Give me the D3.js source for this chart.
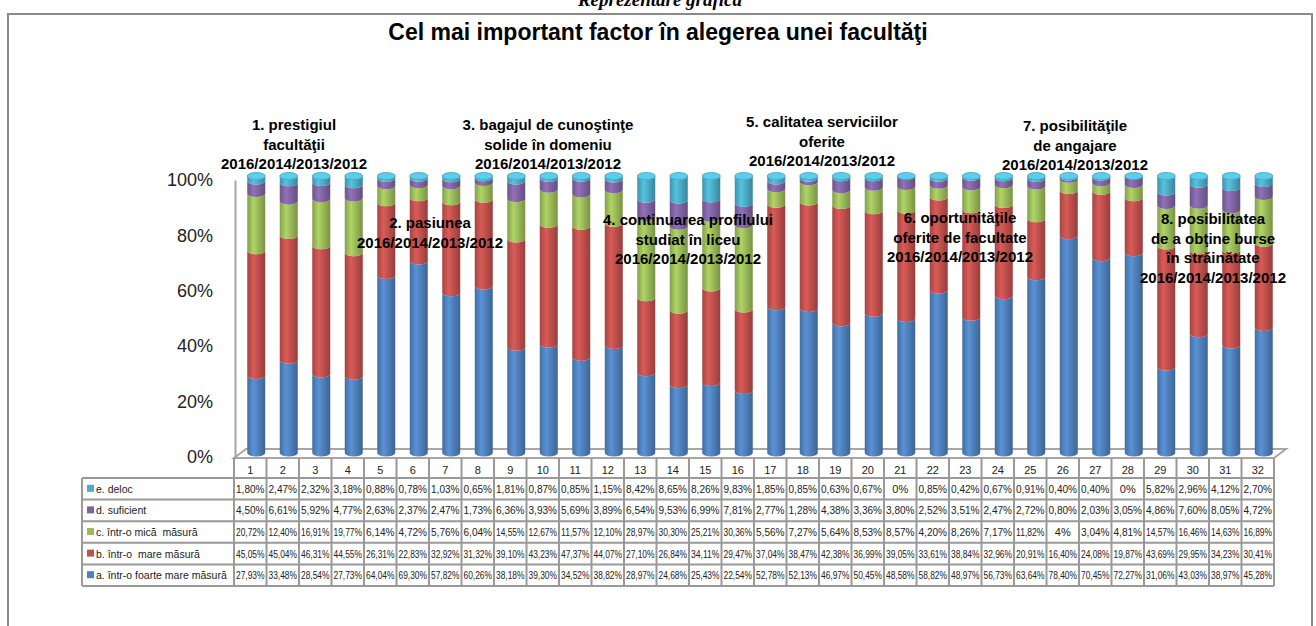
<!DOCTYPE html>
<meta charset="utf-8">
<style>
body { margin: 0; background: #fff; }
svg { display: block; font-family: "Liberation Sans", Arial, sans-serif; }
.note { font-weight: bold; font-size: 15px; fill: #000; }
.cell { font-size: 11px; fill: #222; }
.rowlab { font-size: 10.5px; fill: #222; white-space: pre; }
</style>
<body>
<script src="https://d3js.org/d3.v7.min.js"></script>
<script>

// categories (survey items x years)
var categories = ["1","2","3","4","5","6","7","8","9","10","11","12","13","14","15","16",
                  "17","18","19","20","21","22","23","24","25","26","27","28","29","30","31","32"];

// series values (%)
var foarteMare = [27.93,33.48,28.54,27.73,64.04,69.30,57.82,60.26,38.18,39.30,34.52,38.82,28.97,24.68,25.43,22.54,
                  52.78,52.13,46.97,50.45,48.58,58.82,48.97,56.73,63.64,78.40,70.45,72.27,31.06,43.03,38.97,45.28];
var mare       = [45.05,45.04,46.31,44.55,26.31,22.83,32.92,31.32,39.10,43.23,47.37,44.07,27.10,26.84,34.11,29.47,
                  37.04,38.47,42.38,36.99,39.05,33.61,38.84,32.96,20.91,16.40,24.08,19.87,43.69,29.95,34.23,30.41];
var mica       = [20.72,12.40,16.91,19.77,6.14,4.72,5.76,6.04,14.55,12.67,11.57,12.10,28.97,30.30,25.21,30.36,
                  5.56,7.27,5.64,8.53,8.57,4.20,8.26,7.17,11.82,4,3.04,4.81,14.57,16.46,14.63,16.89];
var suficient  = [4.50,6.61,5.92,4.77,2.63,2.37,2.47,1.73,6.36,3.93,5.69,3.89,6.54,9.53,6.99,7.81,
                  2.77,1.28,4.38,3.36,3.80,2.52,3.51,2.47,2.72,0.80,2.03,3.05,4.86,7.60,8.05,4.72];
var deloc      = [1.80,2.47,2.32,3.18,0.88,0.78,1.03,0.65,1.81,0.87,0.85,1.15,8.42,8.65,8.26,9.83,
                  1.85,0.85,0.63,0.67,0,0.85,0.42,0.67,0.91,0.40,0.40,0,5.82,2.96,4.12,2.70];

var seriesNames = ["a. într-o foarte mare măsură", "b. într-o  mare măsură", "c. într-o mică  măsură",
                   "d. suficient", "e. deloc"];
var yTicks = [0, 20, 40, 60, 80, 100];

var groupLabels = [
  ["1. prestigiul", "facultăţii", "2016/2014/2013/2012"],
  ["2. pasiunea", "2016/2014/2013/2012"],
  ["3.  bagajul de cunoştinţe", "solide în domeniu", "2016/2014/2013/2012"],
  ["4. continuarea profilului", "studiat în liceu", "2016/2014/2013/2012"],
  ["5. calitatea serviciilor", "oferite", "2016/2014/2013/2012"],
  ["6. oportunităţile", "oferite de facultate", "2016/2014/2013/2012"],
  ["7. posibilităţile", "de angajare", "2016/2014/2013/2012"],
  ["8. posibilitatea", "de a obţine burse", "în străinătate", "2016/2014/2013/2012"]
];

// layout
var W = 1316, H = 626;
var colors = ["#4F81BD", "#C0504D", "#9BBB59", "#8064A2", "#4BACC6"];
var labelPos = [[294,125],[430,223],[548,125],[688,220],[822,122],[960,218],[1075,126],[1213,219]];
var depthX = 12, depthY = 9;

var svg = d3.select("body").append("svg")
    .attr("width", W)
    .attr("height", H);

// frame + headings
svg.append("rect")
    .attr("x", 8).attr("y", 14)
    .attr("width", 1304).attr("height", 700)
    .attr("fill", "none").attr("stroke", "#8a8a8a").attr("stroke-width", 2);

svg.append("text")
    .attr("x", 660).attr("y", 6)
    .attr("text-anchor", "middle")
    .style("font-family", "'Liberation Serif', 'Times New Roman', serif")
    .style("font-style", "italic").style("font-weight", "bold")
    .style("font-size", "19px")
    .text("Reprezentare grafică");

svg.append("text")
    .attr("x", 658).attr("y", 40)
    .attr("text-anchor", "middle")
    .style("font-weight", "bold").style("font-size", "23px")
    .text("Cel mai important factor în alegerea unei facultăţi");

// scales
var x = d3.scaleBand().domain(categories).range([234, 1274]).padding(0);
var y = d3.scaleLinear().domain([0, 100]).range([453, 176]);

// gradients for the cylinders
var defs = svg.append("defs");
colors.forEach(function(c, i) {
  var g = defs.append("linearGradient").attr("id", "cyl" + i)
      .attr("x1", 0).attr("x2", 1).attr("y1", 0).attr("y2", 0);
  g.append("stop").attr("offset", "0%").attr("stop-color", d3.color(c).darker(0.45));
  g.append("stop").attr("offset", "35%").attr("stop-color", d3.color(c).brighter(0.35));
  g.append("stop").attr("offset", "100%").attr("stop-color", d3.color(c).darker(0.7));
});

// floor
var fy = 458;
svg.append("path")
    .attr("d", "M234," + fy + "L" + (234 + depthX) + "," + (fy - depthY) +
               "L" + (1274 + depthX) + "," + (fy - depthY) + "L1274," + fy + "Z")
    .attr("fill", "#fff").attr("stroke", "#a6a6a6").attr("stroke-width", 2);

// y axis
var yAxis = svg.append("g")
    .attr("transform", "translate(235,4)")
    .call(d3.axisLeft(y).tickValues(yTicks).tickSize(0).tickPadding(22)
          .tickFormat(function(d) { return d + "%"; }));
yAxis.select(".domain").attr("stroke", "#a6a6a6").attr("stroke-width", 2);
yAxis.selectAll("text").style("font-size", "18px").style("font-family", "'Liberation Sans', Arial, sans-serif")
    .attr("fill", "#222");

// stacked cylinders
var rows = categories.map(function(c, i) {
  return {cat: c, s0: foarteMare[i], s1: mare[i], s2: mica[i], s3: suficient[i], s4: deloc[i]};
});
var stack = d3.stack().keys(["s0", "s1", "s2", "s3", "s4"])(rows);

var rx = 9, ry = 3.5, shift = 6;
function cx(c) { return x(c) + x.bandwidth() / 2 + shift; }
function segPath(c, v0, v1) {
  var l = cx(c) - rx, r = cx(c) + rx, t = y(v1), b = y(v0);
  return "M" + l + "," + t + "L" + l + "," + b +
         "A" + rx + "," + ry + " 0 0 0 " + r + "," + b +
         "L" + r + "," + t +
         "A" + rx + "," + ry + " 0 0 1 " + l + "," + t + "Z";
}

var bars = svg.append("g");
stack.forEach(function(layer, i) {
  bars.selectAll(".seg" + i)
    .data(layer)
    .enter().append("path")
      .attr("class", "seg" + i)
      .attr("d", function(d) { return segPath(d.data.cat, d[0], d[1]); })
      .attr("fill", "url(#cyl" + i + ")");
});
// top caps
bars.selectAll(".cap")
  .data(categories)
  .enter().append("ellipse")
    .attr("class", "cap")
    .attr("cx", function(d) { return cx(d); })
    .attr("cy", y(100))
    .attr("rx", rx).attr("ry", ry)
    .attr("fill", d3.color(colors[4]).brighter(0.5))
    .attr("stroke", d3.color(colors[4]).darker(0.2)).attr("stroke-width", 0.8);

// group annotations
groupLabels.forEach(function(lines, i) {
  var t = svg.append("text").attr("class", "note").attr("text-anchor", "middle");
  lines.forEach(function(s, j) {
    t.append("tspan")
      .attr("x", labelPos[i][0])
      .attr("y", labelPos[i][1] + 5 + j * 19.5)
      .text(s);
  });
});

// data table
var table = svg.append("g");
var rowTop = 478, rowH = 21.6, labL = 82;
var tableSeries = [deloc, suficient, mica, mare, foarteMare];
var tableNames = seriesNames.slice().reverse();
var tableColors = colors.slice().reverse();
var bottom = rowTop + rowH * tableSeries.length;
var lineCol = "#999";

// header numbers
table.selectAll(".hdr")
  .data(categories)
  .enter().append("text")
    .attr("class", "hdr")
    .attr("x", function(d) { return x(d) + x.bandwidth() / 2; })
    .attr("y", rowTop - 4)
    .attr("text-anchor", "middle")
    .style("font-size", "11px").attr("fill", "#222")
    .text(function(d) { return d; });

// grid lines
table.selectAll(".vl")
  .data(categories.concat(["end"]))
  .enter().append("line")
    .attr("x1", function(d) { return d === "end" ? 1274 : x(d); })
    .attr("x2", function(d) { return d === "end" ? 1274 : x(d); })
    .attr("y1", fy).attr("y2", bottom)
    .attr("stroke", lineCol).attr("stroke-width", 2);
table.append("line").attr("x1", labL).attr("x2", labL).attr("y1", rowTop).attr("y2", bottom)
    .attr("stroke", lineCol).attr("stroke-width", 2);
d3.range(tableSeries.length + 1).forEach(function(k) {
  table.append("line")
    .attr("x1", labL).attr("x2", 1274)
    .attr("y1", rowTop + k * rowH).attr("y2", rowTop + k * rowH)
    .attr("stroke", lineCol).attr("stroke-width", 2);
});

var maxCell = x.bandwidth() - 4;
tableSeries.forEach(function(vals, k) {
  var yc = rowTop + k * rowH + rowH / 2;
  table.append("rect")
    .attr("x", 87).attr("y", yc - 4).attr("width", 7).attr("height", 7)
    .attr("fill", tableColors[k]);
  table.append("text")
    .attr("class", "rowlab")
    .attr("x", 96).attr("y", yc + 4)
    .text(tableNames[k]);
  table.selectAll(".c" + k)
    .data(vals)
    .enter().append("text")
      .attr("class", "cell c" + k)
      .attr("x", function(d, i) { return x(categories[i]) + x.bandwidth() / 2; })
      .attr("y", yc + 4)
      .attr("text-anchor", "middle")
      .text(function(d) { return d3.format(".2f")(d).replace(/\.00$/, "").replace(".", ",") + "%"; })
      .each(function() {
        // squeeze values that would spill over the cell borders
        if (this.getComputedTextLength() > maxCell) {
          d3.select(this).attr("textLength", maxCell).attr("lengthAdjust", "spacingAndGlyphs");
        }
      });
});

</script>
</body>
